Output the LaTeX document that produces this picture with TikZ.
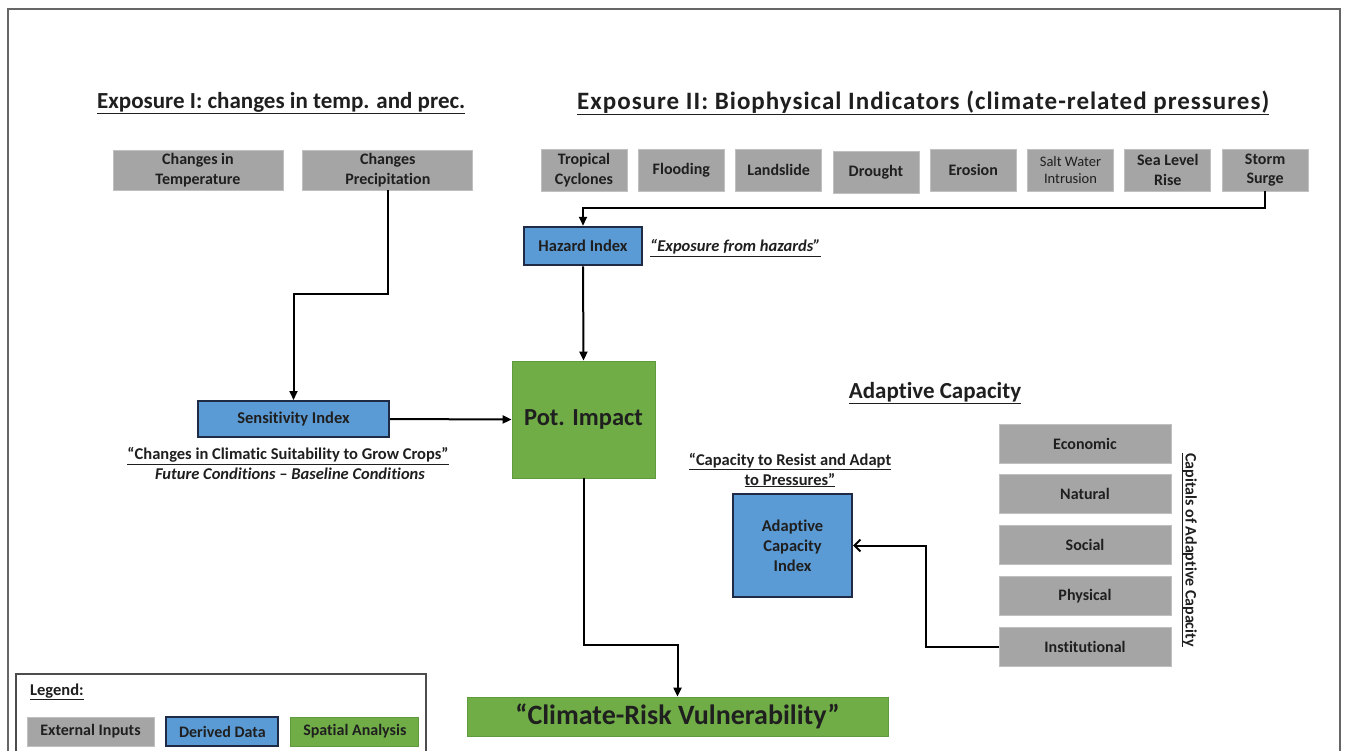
\documentclass[tikz,border=0pt]{standalone}
\usepackage{fontspec}
\setmainfont[Ligatures=NoCommon]{Carlito}
\usetikzlibrary{arrows.meta,positioning}

\definecolor{inputgray}{HTML}{A5A5A5}
\definecolor{derivedblue}{HTML}{5B9BD5}
\definecolor{spatialgreen}{HTML}{70AD47}
\definecolor{navyline}{HTML}{1F2A44}
\definecolor{greenline}{HTML}{5E9B3C}

\tikzset{
		vulnmap/.style={
			x=1pt,y=-1pt,
			every node/.style={inner sep=0pt,align=center,text=black!88,font=\fontsize{16}{19.5}\selectfont\bfseries},
			arr/.style={line width=2pt,-{Triangle[length=9pt,width=8pt]}}
		},
		extbox/.style={fill=inputgray,draw=inputgray!70!white,line width=0.8pt,minimum height=40pt},
		toprow/.style={extbox,minimum width=86pt,minimum height=42pt},
		capbox/.style={extbox,minimum width=172pt,minimum height=39pt},
		derbox/.style={fill=derivedblue,draw=navyline,line width=2pt},
		spabox/.style={fill=spatialgreen,draw=greenline,line width=0.8pt},
		heading/.style={font=\fontsize{23}{28}\selectfont\bfseries},
		remark/.style={font=\fontsize{16.5}{20}\selectfont\bfseries}
	}

\begin{document}
\begin{tikzpicture}[vulnmap]
	\useasboundingbox[fill=white] (0,0) rectangle (1346,750);
	% outer frame
	\draw[line width=1.5pt,black!60] (8,752) -- (8,9) -- (1340,9) -- (1340,752);

	% headings
	\node[heading,anchor=west] (expoone) at (97,103) {\underline{Exposure I: changes in temp. and prec.}};
	\node[heading,anchor=west,font=\fontsize{25}{28}\selectfont\bfseries\addfontfeature{LetterSpace=4}] (expotwo) at (577,103) {\underline{Exposure II: Biophysical Indicators (climate-related pressures)}};
	\node[heading] (adapthead) at (935,393) {\underline{Adaptive Capacity}};

	% exposure I
	\node[extbox,minimum width=170pt] (temp) at (198,170) {Changes in\\Temperature};
	\node[extbox,minimum width=170pt,right=19pt of temp] (prec) {Changes\\Precipitation};

	% exposure II
	\node[toprow] (cyclone) at (584,170) {Tropical\\Cyclones};
	\node[toprow,right=10.5pt of cyclone] (flood) {Flooding};
	\node[toprow,right=10.5pt of flood] (slide) {Landslide};
	\node[toprow,right=10.5pt of slide,yshift=-2pt] (drought) {Drought};
	\node[toprow,right=10.5pt of drought,yshift=2pt] (erosion) {Erosion};
	\node[toprow,right=10.5pt of erosion,font=\fontsize{14.5}{17}\selectfont] (saltwater) {Salt Water\\Intrusion};
	\node[toprow,right=10.5pt of saltwater] (sealevel) {Sea Level\\Rise};
	\node[toprow,right=10.5pt of sealevel] (surge) {Storm\\Surge};

	% derived data
	\node[derbox,line width=2.5pt,minimum width=118pt,minimum height=38pt,font=\fontsize{16.5}{19}\selectfont\bfseries] (hazard) at (583,246) {Hazard Index};
	\node[remark,anchor=west] (hazardnote) at (650,248) {\itshape\underline{“Exposure from hazards”}};

	\node[derbox,minimum width=191pt,minimum height=36pt,font=\fontsize{16.5}{19}\selectfont\bfseries] (sens) at (293.5,419) {Sensitivity Index};
	\node[remark] (sensnote) at (288,456) {\underline{“Changes in Climatic Suitability to Grow Crops”}};
	\node[remark] (sensdiff) at (290,474) {\itshape Future Conditions -- Baseline Conditions};

	\node[derbox,minimum width=119pt,minimum height=103pt,font=\fontsize{16.5}{20}\selectfont\bfseries] (aci) at (792.5,545.5) {Adaptive\\Capacity\\Index};
	\node[remark] (acinote) at (790,470) {\underline{“Capacity to Resist and Adapt}\\\underline{to Pressures”}};

	% capitals
	\node[capbox] (econ) at (1085,443.5) {Economic};
	\node[capbox,below=11pt of econ] (natural) {Natural};
	\node[capbox,below=11pt of natural] (social) {Social};
	\node[capbox,below=11pt of social] (physical) {Physical};
	\node[capbox,below=11pt of physical] (inst) {Institutional};
	\node[rotate=-90,font=\fontsize{16}{19}\selectfont\bfseries] (capitals) at (1189,550) {\underline{Capitals of Adaptive Capacity}};

	% spatial analysis
	\node[spabox,minimum width=143pt,minimum height=117pt,font=\fontsize{24.5}{28}\selectfont\bfseries] (pot) at (583.5,419.5) {Pot. Impact};
	\node[spabox,minimum width=421pt,minimum height=39pt,font=\fontsize{28}{32}\selectfont\bfseries] (vuln) at (677.5,716.5) {“Climate-Risk Vulnerability”};

	% connectors
	\draw[arr] (prec.south) -- ++(0,104) -| (sens.north);
	\draw[arr] (surge.south) -- ++(0,17) -| (hazard.north);
	\draw[arr] (hazard.south) -- (pot.north);
	\draw[arr] (sens.east) -- (pot.west);
	\draw[arr] (pot.south) -- ++(0,167) -| (vuln.north);
	\draw[line width=2pt,-{Straight Barb[length=6pt,width=12pt]}] (inst.west) -- ++(-73,0) |- (aci.east);

	% legend
	\draw[line width=1.2pt,black!70] (16,752) -- (16,674) -- (426,674) -- (426,752);
	\node[remark,anchor=west] (legendhead) at (30,692) {\underline{Legend:}};
	\node[extbox,minimum width=127pt,minimum height=29pt,font=\fontsize{16}{19}\selectfont\bfseries] (legext) at (90.5,731.5) {External Inputs};
	\node[derbox,minimum width=112pt,minimum height=29pt,font=\fontsize{16}{19}\selectfont\bfseries,right=11pt of legext] (legder) {Derived Data};
	\node[spabox,minimum width=128pt,minimum height=29pt,font=\fontsize{16}{19}\selectfont\bfseries,right=11pt of legder] (legspa) {Spatial Analysis};
\end{tikzpicture}
\end{document}
